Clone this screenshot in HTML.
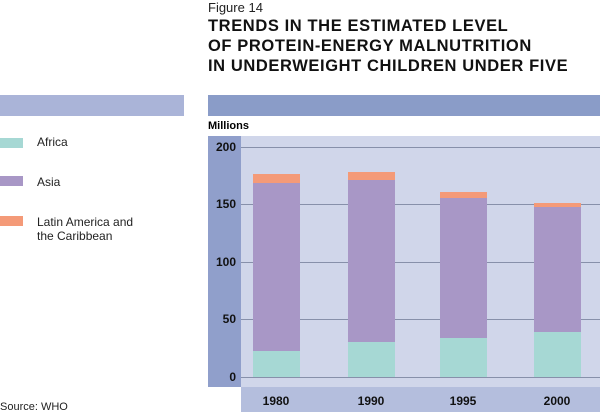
<!DOCTYPE html><html><head><style>
body{margin:0;width:600px;height:415px;background:#fff;position:relative;overflow:hidden;font-family:"Liberation Sans",sans-serif}
div{position:absolute}
.t{left:208px;font-weight:bold;font-size:16.5px;color:#111;letter-spacing:0.6px}
.lg{font-size:12px;color:#222;left:37px}
.yl{font-weight:bold;font-size:12px;color:#111;width:30px;text-align:right;left:206px}
.xl{font-weight:bold;font-size:12px;color:#111;width:60px;text-align:center;top:394px}
.g{left:241px;width:359px;height:1px;background:#8790aa}
</style></head><body>
<div style="left:208px;top:0;font-size:13px;color:#222">Figure 14</div>
<div class="t" style="top:17px">TRENDS IN  THE ESTIMATED LEVEL</div>
<div class="t" style="top:37px">OF PROTEIN-ENERGY MALNUTRITION</div>
<div class="t" style="top:57px">IN UNDERWEIGHT CHILDREN UNDER FIVE</div>
<div style="left:0;top:95px;width:184px;height:21px;background:#aab4d8"></div>
<div style="left:208px;top:95px;width:392px;height:21px;background:#8a9cc8"></div>
<div style="left:0;top:138px;width:23px;height:10px;background:#a6d8d4"></div>
<div class="lg" style="top:135px">Africa</div>
<div style="left:0;top:176px;width:23px;height:10px;background:#a897c6"></div>
<div class="lg" style="top:175px">Asia</div>
<div style="left:0;top:216px;width:23px;height:10px;background:#f49a78"></div>
<div class="lg" style="top:215px;line-height:14px">Latin America and<br>the Caribbean</div>
<div style="left:208px;top:120px;font-weight:bold;font-size:11px">Millions</div>
<div style="left:208px;top:136px;width:33px;height:251px;background:#909fcb"></div>
<div style="left:241px;top:136px;width:359px;height:251px;background:#d0d6ea"></div>
<div style="left:241px;top:387px;width:359px;height:25px;background:#b4bedd"></div>
<div class="g" style="top:147px"></div><div class="g" style="top:204px"></div><div class="g" style="top:262px"></div><div class="g" style="top:319px"></div><div class="g" style="top:377px"></div>
<div class="yl" style="top:140px">200</div><div class="yl" style="top:197px">150</div><div class="yl" style="top:255px">100</div><div class="yl" style="top:312px">50</div><div class="yl" style="top:370px">0</div>
<div style="left:253px;top:351px;width:47px;height:26px;background:#a6d8d4"></div>
<div style="left:253px;top:183px;width:47px;height:168px;background:#a897c6"></div>
<div style="left:253px;top:174px;width:47px;height:9px;background:#f49a78"></div>
<div style="left:348px;top:342px;width:47px;height:35px;background:#a6d8d4"></div>
<div style="left:348px;top:180px;width:47px;height:162px;background:#a897c6"></div>
<div style="left:348px;top:172px;width:47px;height:8px;background:#f49a78"></div>
<div style="left:440px;top:338px;width:47px;height:39px;background:#a6d8d4"></div>
<div style="left:440px;top:198px;width:47px;height:140px;background:#a897c6"></div>
<div style="left:440px;top:192px;width:47px;height:6px;background:#f49a78"></div>
<div style="left:534px;top:332px;width:47px;height:45px;background:#a6d8d4"></div>
<div style="left:534px;top:207px;width:47px;height:125px;background:#a897c6"></div>
<div style="left:534px;top:203px;width:47px;height:4px;background:#f49a78"></div>
<div class="xl" style="left:246px">1980</div><div class="xl" style="left:341px">1990</div><div class="xl" style="left:433px">1995</div><div class="xl" style="left:527px">2000</div>
<div style="left:0;top:401px;font-size:11px;color:#222">Source: WHO</div>
</body></html>
